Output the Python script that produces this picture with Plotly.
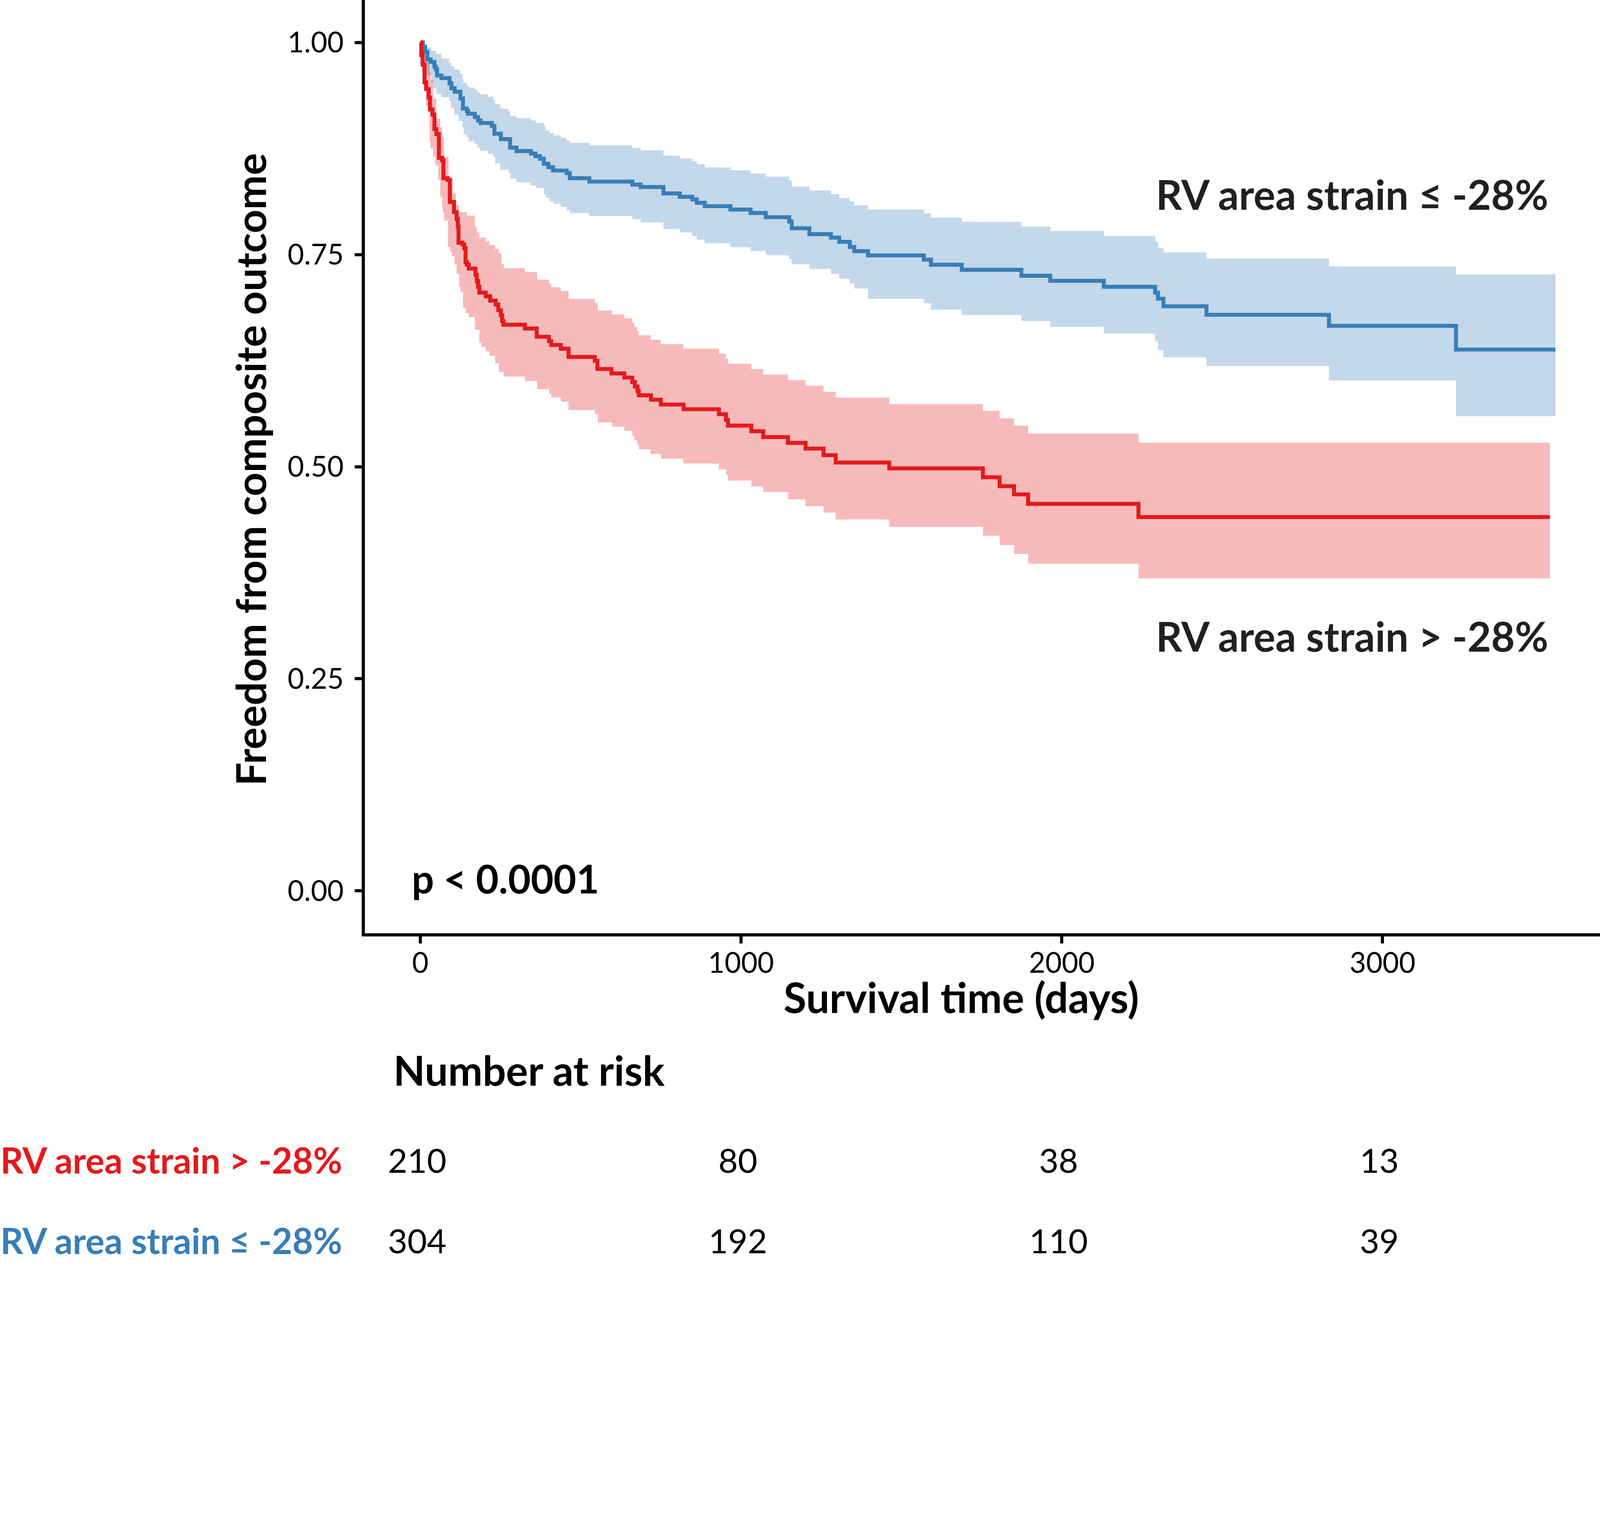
import plotly.graph_objects as go

# ---------------- data ----------------
blue_time = [0, 8, 15, 22, 32, 44, 48, 52, 66, 91,
             97, 107, 125, 133, 145, 149, 170, 180, 188, 223,
             231, 251, 280, 300, 345, 359, 373, 385, 399, 414,
             456, 466, 527, 661, 687, 758, 809, 848, 862, 887,
             967, 1030, 1077, 1150, 1158, 1213, 1280, 1306, 1339, 1353,
             1396, 1570, 1592, 1688, 1874, 1964, 2131, 2291, 2300, 2317,
             2451, 2833, 3229, 3539]
blue_surv = [1.0, 0.995, 0.989, 0.980, 0.977, 0.9715, 0.9685, 0.961, 0.958, 0.952,
             0.946, 0.942, 0.934, 0.922, 0.919, 0.916, 0.912, 0.908, 0.905, 0.9015,
             0.8925, 0.886, 0.876, 0.872, 0.869, 0.866, 0.863, 0.857, 0.853, 0.849,
             0.846, 0.840, 0.836, 0.8325, 0.8296, 0.822, 0.818, 0.815, 0.811, 0.807,
             0.803, 0.799, 0.794, 0.789, 0.781, 0.774, 0.770, 0.765, 0.759, 0.754,
             0.749, 0.744, 0.738, 0.732, 0.725, 0.719, 0.712, 0.705, 0.698, 0.689,
             0.679, 0.666, 0.638, 0.638]

blue_ci_time = [0, 5, 15, 34, 40, 48, 50, 66, 90, 95,
                105, 119, 123, 131, 135, 145, 151, 168, 178, 186,
                210, 227, 233, 249, 275, 281, 300, 344, 361, 385,
                391, 403, 416, 438, 456, 466, 527, 661, 687, 758,
                809, 848, 862, 887, 967, 1030, 1077, 1150, 1158, 1213,
                1280, 1306, 1339, 1353, 1396, 1570, 1592, 1688, 1874, 1964,
                2131, 2291, 2300, 2317, 2451, 2833, 3229, 3539]
blue_upper = [1.0, 0.998, 0.9938, 0.9901, 0.9901, 0.9864, 0.9864, 0.9809, 0.9759, 0.9722,
              0.9682, 0.9670, 0.9633, 0.9566, 0.9524, 0.9491, 0.9469, 0.9444, 0.9409, 0.9387,
              0.9360, 0.9327, 0.9275, 0.9219, 0.9186, 0.9134, 0.9107, 0.9079, 0.9049, 0.9015,
              0.8962, 0.8933, 0.8903, 0.8873, 0.8843, 0.8816, 0.8788, 0.8757, 0.8728, 0.8665,
              0.8631, 0.8598, 0.8564, 0.8527, 0.8494, 0.8457, 0.8419, 0.8378, 0.830, 0.8254,
              0.8212, 0.8167, 0.8125, 0.808, 0.8032, 0.7986, 0.7934, 0.7886, 0.783, 0.7778,
              0.7719, 0.765, 0.758, 0.7524, 0.7454, 0.736, 0.7267, 0.7267]
blue_lower = [1.0, 0.975, 0.961, 0.9528, 0.9461, 0.9461, 0.9394, 0.9353, 0.9312, 0.9231,
              0.9152, 0.9074, 0.9074, 0.9000, 0.8918, 0.8880, 0.8836, 0.8806, 0.8762, 0.8724,
              0.8687, 0.8650, 0.8575, 0.8501, 0.8464, 0.8393, 0.8352, 0.8315, 0.8285, 0.8210,
              0.8173, 0.8128, 0.8099, 0.8061, 0.8024, 0.7990, 0.7954, 0.7916, 0.7879, 0.7800,
              0.7760, 0.7718, 0.7675, 0.7633, 0.7585, 0.7541, 0.7491, 0.7447, 0.7385, 0.733,
              0.7274, 0.7215, 0.7159, 0.710, 0.6978, 0.6926, 0.685, 0.6787, 0.6717, 0.6648,
              0.6568, 0.6474, 0.6377, 0.629, 0.6186, 0.6015, 0.5595, 0.5595]

red_time = [0, 3, 7, 13, 18, 26, 30, 38, 44, 50,
            58, 68, 72, 85, 92, 105, 113, 117, 119, 131,
            137, 141, 145, 151, 172, 176, 180, 184, 204, 218,
            235, 243, 251, 255, 259, 326, 363, 401, 408, 438,
            462, 544, 552, 596, 636, 661, 669, 677, 681, 719,
            750, 821, 931, 953, 959, 1032, 1069, 1146, 1201, 1257,
            1295, 1462, 1754, 1806, 1851, 1895, 2239, 3522]
red_surv = [1.0, 0.985, 0.974, 0.953, 0.945, 0.935, 0.921, 0.915, 0.898, 0.892,
            0.864, 0.861, 0.840, 0.838, 0.812, 0.800, 0.792, 0.783, 0.764, 0.762,
            0.7574, 0.741, 0.738, 0.7335, 0.726, 0.7187, 0.712, 0.7052, 0.7008, 0.6956,
            0.6911, 0.6844, 0.6784, 0.6717, 0.6673, 0.6628, 0.6531, 0.6479, 0.6434, 0.6390,
            0.6293, 0.6248, 0.6151, 0.6099, 0.605, 0.5997, 0.5945, 0.5893, 0.5841, 0.5789,
            0.5732, 0.5677, 0.5618, 0.5550, 0.5484, 0.5417, 0.5349, 0.5280, 0.5213, 0.5136,
            0.5049, 0.498, 0.4875, 0.477, 0.4673, 0.4562, 0.4406, 0.4406]

red_ci_time = [0, 5, 13, 17, 25, 29, 32, 40, 46, 50,
               56, 62, 68, 70, 74, 86, 88, 93, 99, 101,
               107, 111, 113, 121, 125, 133, 141, 145, 151, 170,
               176, 184, 190, 204, 216, 233, 245, 253, 260, 326,
               364, 401, 408, 438, 462, 544, 553, 598, 636, 661,
               667, 676, 681, 718, 750, 820, 931, 953, 959, 1032,
               1069, 1146, 1201, 1257, 1295, 1462, 1754, 1806, 1851, 1895,
               2239, 3522]
red_upper = [1.0, 0.995, 0.99, 0.985, 0.975, 0.965, 0.956, 0.934, 0.934, 0.910,
             0.910, 0.900, 0.889, 0.889, 0.865, 0.865, 0.839, 0.839, 0.839, 0.822,
             0.822, 0.808, 0.808, 0.800, 0.800, 0.800, 0.800, 0.796, 0.796, 0.7827,
             0.776, 0.770, 0.770, 0.7656, 0.7611, 0.7566, 0.7514, 0.7388, 0.7338, 0.7294,
             0.7204, 0.7160, 0.7115, 0.7070, 0.6978, 0.6933, 0.6842, 0.6794, 0.6747, 0.6697,
             0.6648, 0.66, 0.6548, 0.6496, 0.6444, 0.6392, 0.6332, 0.6273, 0.6213, 0.6151,
             0.6087, 0.602, 0.5953, 0.5883, 0.5814, 0.5737, 0.5657, 0.557, 0.5483, 0.539,
             0.5282, 0.5282]
red_lower = [1.0, 0.965, 0.944, 0.925, 0.918, 0.883, 0.875, 0.865, 0.855, 0.855,
             0.838, 0.818, 0.805, 0.800, 0.790, 0.759, 0.759, 0.753, 0.748, 0.748,
             0.738, 0.738, 0.727, 0.712, 0.706, 0.687, 0.681, 0.681, 0.6762, 0.6613,
             0.6613, 0.6464, 0.6412, 0.6360, 0.6308, 0.6218, 0.6114, 0.6114, 0.6062, 0.6010,
             0.5913, 0.5861, 0.5816, 0.5764, 0.5667, 0.5618, 0.5521, 0.5472, 0.5421, 0.5364,
             0.5312, 0.526, 0.5205, 0.5150, 0.5093, 0.5037, 0.497, 0.4903, 0.4836, 0.4766,
             0.4701, 0.4614, 0.4534, 0.4458, 0.4378, 0.4291, 0.4187, 0.4076, 0.3971, 0.3857,
             0.3683, 0.3683]

x_ticks = [0, 1000, 2000, 3000]
y_ticks = [0.0, 0.25, 0.50, 0.75, 1.00]
y_tick_labels = ["0.00", "0.25", "0.50", "0.75", "1.00"]
risk_times = [0, 1000, 2000, 3000]
risk_red = [210, 80, 38, 13]
risk_blue = [304, 192, 110, 39]

label_red = "RV area strain > -28%"
label_blue = "RV area strain \u2264 -28%"

# ---------------- style ----------------
RED = "#E41A1C"
BLUE = "#377EB8"
RED_FILL = "rgba(228,26,28,0.3)"
BLUE_FILL = "rgba(55,126,184,0.3)"
FONT = "Lato"
TXT = "#231F20"

# design is done in output pixels (4848 x 3901); the page is laid out in CSS px
SHOT_W, SHOT_H = 4848, 3901
K = 4096 / SHOT_W


def s(v):
    return v * K


fig = go.Figure()

# confidence bands
for t, lo, up, fc in [(blue_ci_time, blue_lower, blue_upper, BLUE_FILL),
                      (red_ci_time, red_lower, red_upper, RED_FILL)]:
    fig.add_trace(go.Scatter(x=t, y=lo, mode="lines", line=dict(width=0, shape="hv"),
                             hoverinfo="skip", showlegend=False))
    fig.add_trace(go.Scatter(x=t, y=up, mode="lines", line=dict(width=0, shape="hv"),
                             fill="tonexty", fillcolor=fc, hoverinfo="skip", showlegend=False))

# survival curves
fig.add_trace(go.Scatter(x=blue_time, y=blue_surv, mode="lines",
                         line=dict(color=BLUE, width=s(12), shape="hv"), showlegend=False))
fig.add_trace(go.Scatter(x=red_time, y=red_surv, mode="lines",
                         line=dict(color=RED, width=s(12), shape="hv"), showlegend=False))

L, B = 1106, 1074
plot_w = SHOT_W - L
plot_h = SHOT_H - B


def px_x(px):
    return (px - L) / plot_w


def px_y(py):
    return (plot_h - py) / plot_h


def ann(text, x, y, size, color="black", bold=True, xanchor="left", xref="paper", **kw):
    return dict(text=text, xref=xref, yref="paper", x=x, y=y,
                xanchor=xanchor, yanchor="middle", showarrow=False,
                font=dict(family=FONT, size=s(size), color=color,
                          weight="bold" if bold else "normal"), **kw)


annotations = [
    ann(label_blue, px_x(4694), px_y(587), 124, TXT, xanchor="right"),
    ann(label_red, px_x(4694), px_y(1926), 124, TXT, xanchor="right"),
    ann("p < 0.0001", px_x(1246), px_y(2660), 119),
    ann("Survival time (days)", px_x(2913), px_y(3020), 126, xanchor="center"),
    ann("Freedom from composite outcome", px_x(758), px_y(1422), 125, xanchor="center", textangle=-90),
    ann("Number at risk", px_x(1190), px_y(3240), 125),
    ann(label_red, px_x(0), px_y(3513), 108, RED),
    ann(label_blue, px_x(0), px_y(3757), 108, BLUE),
]
for t, n in zip(risk_times, risk_red):
    annotations.append(ann(str(n), t, px_y(3513), 102, bold=False, xanchor="center", xref="x", xshift=s(-10)))
for t, n in zip(risk_times, risk_blue):
    annotations.append(ann(str(n), t, px_y(3757), 102, bold=False, xanchor="center", xref="x", xshift=s(-10)))

axis_common = dict(showline=True, linecolor="black", linewidth=s(9), ticks="outside",
                   ticklen=s(21), tickwidth=s(9), tickcolor="black", showgrid=False, zeroline=False,
                   tickfont=dict(family=FONT, size=s(86), color="black"))

fig.update_layout(
    width=round(s(SHOT_W)), height=round(s(SHOT_H)),
    margin=dict(l=s(L), r=0, t=0, b=s(B), pad=0),
    paper_bgcolor="white", plot_bgcolor="white",
    font=dict(family=FONT, color="black"),
    showlegend=False,
    annotations=annotations,
    xaxis=dict(range=[-173, 3678], tickvals=x_ticks, ticktext=[str(v) for v in x_ticks],
               ticklabelstandoff=-12, **axis_common),
    yaxis=dict(range=[-0.05, 1.05], tickvals=y_ticks, ticktext=y_tick_labels,
               ticklabelstandoff=int(round(s(16))), **axis_common),
)

fig.write_html("out.html", config={"displayModeBar": False},
               post_script="document.body.style.margin='0';")
